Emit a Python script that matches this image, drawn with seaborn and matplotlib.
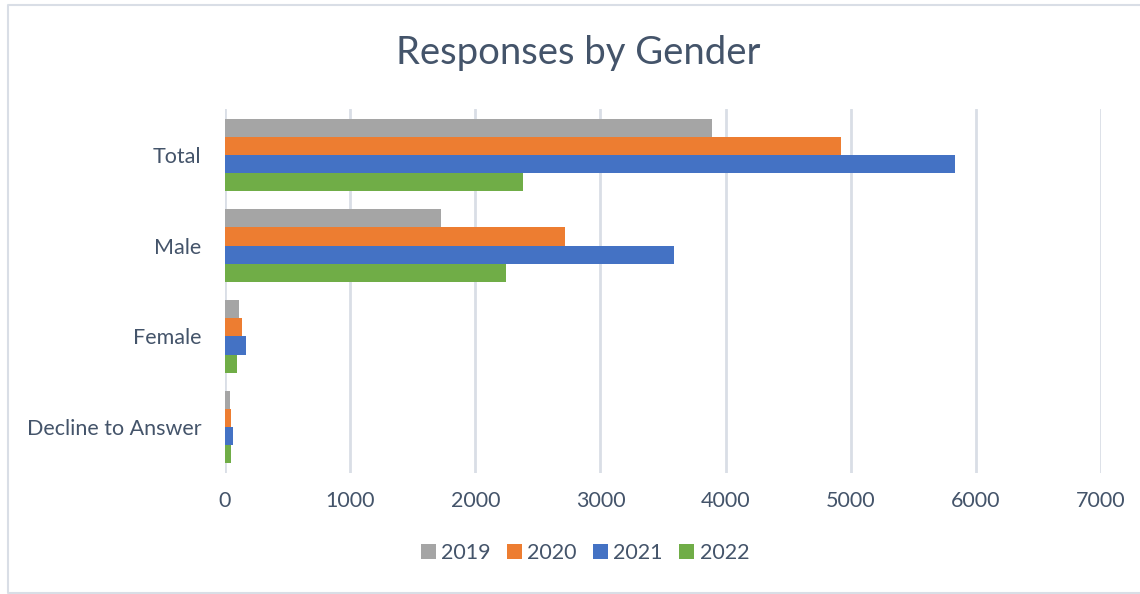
import matplotlib
matplotlib.use("Agg")
import matplotlib.pyplot as plt
import seaborn as sns
import pandas as pd
from matplotlib.lines import Line2D

categories = ["Total", "Male", "Female", "Decline to Answer"]
years = ["2019", "2020", "2021", "2022"]
values_2019 = [3895, 1725, 110, 40]
values_2020 = [4920, 2720, 135, 48]
values_2021 = [5830, 3585, 168, 64]
values_2022 = [2385, 2248, 92, 46]
x_ticks = [0, 1000, 2000, 3000, 4000, 5000, 6000, 7000]

colors = ["#A5A5A5", "#ED7D31", "#4472C4", "#70AD47"]
text_color = "#44546A"
grid_color = "#D9DEE6"

rows = []
for year, vals in zip(years, [values_2019, values_2020, values_2021, values_2022]):
    for cat, v in zip(categories, vals):
        rows.append({"Category": cat, "Year": year, "Responses": v})
df = pd.DataFrame(rows)

sns.set_theme(style="white")
plt.rcParams["font.family"] = ["Lato", "DejaVu Sans"]

fig = plt.figure(figsize=(11.4, 5.94), dpi=100)
ax = fig.add_axes([0.1974, 0.2045, 0.9658 - 0.1974, 0.8157 - 0.2045])

sns.barplot(data=df, y="Category", x="Responses", hue="Year",
            order=categories, hue_order=years, palette=colors,
            orient="h", width=0.8, gap=0, saturation=1, errorbar=None,
            linewidth=0, ax=ax, zorder=3, legend=True)

ax.set_xlim(0, 7000)
ax.set_xticks(x_ticks)
ax.set_xticklabels([str(t) for t in x_ticks])
ax.set_ylim(3.5, -0.5)
for s in ax.spines.values():
    s.set_visible(False)
ax.grid(axis="x", color=grid_color, linewidth=2, zorder=0)
ax.grid(axis="y", visible=False)
ax.tick_params(axis="both", length=0, labelsize=15.5, colors=text_color)
ax.tick_params(axis="x", pad=13)
ax.tick_params(axis="y", pad=17)
ax.set_xlabel("")
ax.set_ylabel("")

handles, labels = ax.get_legend_handles_labels()
ax.legend_.remove()
fig.legend(handles, labels, loc="center", bbox_to_anchor=(0.513, 0.069),
           ncol=4, frameon=False, fontsize=15.5, handlelength=0.7,
           handleheight=0.7, handletextpad=0.25, columnspacing=0.75,
           labelcolor=text_color)

fig.text(0.507, 0.91, "Responses by Gender", ha="center", va="center",
         fontsize=27.5, color=text_color)

# thin frame around the chart (left, top, bottom)
frame_x = [2.0, 8 / 1140, 8 / 1140, 2.0]
frame_y = [1 - 5 / 594, 1 - 5 / 594, 1 - 593 / 594, 1 - 593 / 594]
fig.add_artist(Line2D(frame_x, frame_y, transform=fig.transFigure,
                      color=grid_color, linewidth=1.5))

fig.savefig("out.png", dpi=100, facecolor="white")
